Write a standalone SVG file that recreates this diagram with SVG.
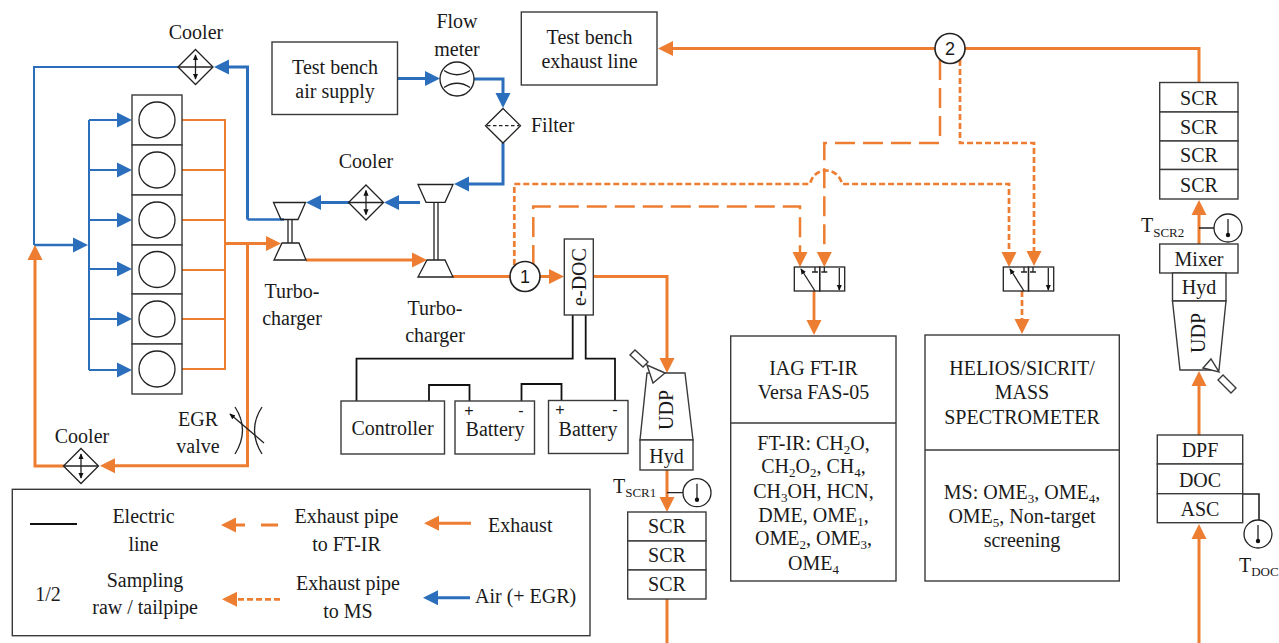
<svg xmlns="http://www.w3.org/2000/svg" width="1279" height="643" viewBox="0 0 1279 643">
<style>
text{font-family:"Liberation Serif","Times New Roman",serif;font-size:20px;fill:#1a1a1a;text-anchor:middle}
text.s{text-anchor:start}
text.n{font-family:"Liberation Sans",Arial,sans-serif;font-size:18px}
text.p{font-family:"Liberation Sans",Arial,sans-serif;font-size:16px}
tspan.b{font-size:13px}
.box{fill:#fff;stroke:#3a3a3a;stroke-width:1.4}
.sym{fill:none;stroke:#222;stroke-width:1.3}
.el{fill:none;stroke:#111;stroke-width:1.8}
.o{fill:none;stroke:#ED7D31;stroke-width:3}
.ot{fill:none;stroke:#ED7D31;stroke-width:2}
.bl{fill:none;stroke:#2B6FBC;stroke-width:3}
.bt{fill:none;stroke:#2B6FBC;stroke-width:2}
.ld{stroke-width:2.5;stroke-dasharray:20 8}
.sd{stroke-width:2.7;stroke-dasharray:6 3}
.oa{marker-end:url(#ao)}
.ba{marker-end:url(#ab)}
</style>
<defs>
<marker id="ao" markerUnits="userSpaceOnUse" markerWidth="16" markerHeight="16" viewBox="0 0 15 16" refX="11" refY="8" orient="auto"><path d="M0,0.5L15,8L0,15.5z" fill="#ED7D31"/></marker>
<marker id="ab" markerUnits="userSpaceOnUse" markerWidth="16" markerHeight="16" viewBox="0 0 15 16" refX="11" refY="8" orient="auto"><path d="M0,0.5L15,8L0,15.5z" fill="#2B6FBC"/></marker>
<marker id="as" markerUnits="userSpaceOnUse" markerWidth="6" markerHeight="6" viewBox="0 0 7 7" refX="6" refY="3.5" orient="auto-start-reverse"><path d="M0,0.5L7,3.5L0,6.5z" fill="#111"/></marker>
<g id="cooler"><path class="sym" style="fill:#fff" d="M0,-17.5L17.5,0L0,17.5L-17.5,0z"/><path class="sym" d="M-17,0H17"/><path class="sym" d="M0,-12V12" marker-start="url(#as)" marker-end="url(#as)"/></g>
<g id="thermo"><circle class="sym" style="fill:#fff" r="14"/><path class="sym" d="M0,-9V7"/><circle cy="7" r="2.2" fill="#111"/></g>
</defs>

<g id="connectors">
<path class="bt" d="M178,67H34V245"/>
<path class="bl ba" style="stroke-width:2.6" d="M34,245H84"/>
<path class="bt" d="M89,120V370"/>
<path class="bt ba" d="M89,120H128"/><path class="bt ba" d="M89,170H128"/><path class="bt ba" d="M89,220H128"/><path class="bt ba" d="M89,269H128"/><path class="bt ba" d="M89,319H128"/><path class="bt ba" d="M89,370H128"/>
<path class="ot" d="M182,120H225V369H182M182,170H225M182,220H225M182,270H225M182,319H225"/>
<path class="o oa" d="M225,243.5H277"/>
<path class="o oa" d="M247.5,243.5V465.7H104"/>
<path class="o oa" d="M64,466H35V249"/>
<path class="bl" style="stroke-width:2.4" d="M284,219.5H247.5"/>
<path class="bl ba" d="M247.5,219.5V67H218"/>
<path class="bl ba" d="M349,202.5H310"/>
<path class="bl ba" d="M420,202.5H388"/>
<path class="bl ba" d="M503,143V184H458"/>
<path class="bl ba" d="M398,78.5H436"/>
<path class="bl ba" d="M474,79H503V104"/>
<path class="o oa" d="M306,260H423"/>
<path class="o" d="M453,276.5H510"/>
<path class="o oa" d="M540,276.5H560"/>
<path class="o oa" d="M593,276.5H667V369"/>
<path class="o oa" d="M667,470V508"/>
<path class="o" d="M667,599V643"/>
<path class="o oa" d="M1199,643V528"/>
<path class="o oa" d="M1199,435V375"/>
<path class="o oa" d="M1199,244V204"/>
<path class="o" d="M1199,82V48.5H965"/>
<path class="o oa" d="M935,48.5H662"/>
<path class="o ld oa" d="M533.3,265V206.5H800V263"/>
<path class="o sd oa" d="M514.3,265V184H810C814,166 838,166 842,184H1009V263"/>
<path class="o ld oa" d="M940,60V143H824.3V263"/>
<path class="o sd oa" d="M960,60V143H1034V262"/>
<path class="o oa" style="stroke-width:2.8" d="M814,291V331"/>
<path class="o sd oa" d="M1022,291V330"/>
<path class="el" d="M572.7,315V358.7H356.5V401"/>
<path class="el" d="M585.7,315V358.7H615V400"/>
<path class="el" d="M429,401V385H469.5V401"/>
<path class="el" d="M521.5,401V384H561.5V400"/>
<path class="sym" d="M667,492.7H683M1199,228H1214"/>
<path class="sym" style="stroke-width:1.6" d="M1243,494H1259V520"/>
</g>

<g id="cooler-1"><use href="#cooler" x="195.5" y="67"/><text x="196" y="39">Cooler</text></g>
<g id="cooler-2"><use href="#cooler" x="366" y="202.5"/><text x="366" y="168">Cooler</text></g>
<g id="cooler-3"><use href="#cooler" x="81" y="466"/><text x="82" y="443">Cooler</text></g>

<g id="engine">
<rect class="box" x="132" y="95" width="50" height="50"/><rect class="box" x="132" y="145" width="50" height="50"/><rect class="box" x="132" y="195" width="50" height="50"/><rect class="box" x="132" y="245" width="50" height="49"/><rect class="box" x="132" y="294" width="50" height="50"/><rect class="box" x="132" y="344" width="50" height="50"/>
<circle class="sym" cx="157" cy="120" r="18"/><circle class="sym" cx="157" cy="170" r="18"/><circle class="sym" cx="157" cy="220" r="18"/><circle class="sym" cx="157" cy="269.5" r="18"/><circle class="sym" cx="157" cy="319" r="18"/><circle class="sym" cx="157" cy="369" r="18"/>
</g>

<g id="air-supply"><rect class="box" x="272" y="42" width="125.5" height="72.5"/><text x="335" y="74">Test bench</text><text x="335" y="98">air supply</text></g>
<g id="flow-meter"><circle class="sym" cx="457" cy="79" r="17"/><path class="sym" d="M444,70.5Q457,79 470,70.5M444,87.5Q457,79 470,87.5"/><text x="457" y="28">Flow</text><text x="457" y="56">meter</text></g>
<g id="filter"><path class="sym" style="fill:#fff" d="M503,108.5L520.5,125.7L503,143L485.5,125.7z"/><path class="sym" stroke-dasharray="3.5 2.5" d="M487,125.7H519"/><text class="s" x="531" y="132">Filter</text></g>
<g id="exhaust-line"><rect class="box" x="521.3" y="12" width="135.7" height="73"/><text x="589.5" y="44">Test bench</text><text x="589.5" y="68">exhaust line</text></g>

<g id="turbo-1"><path class="sym" d="M273.5,202.5H305.5L298,219.5H281zM282,243H299L306,260H274zM288,219.5V243M292,219.5V243"/><text x="292" y="298">Turbo-</text><text x="292" y="325">charger</text></g>
<g id="turbo-2"><path class="sym" d="M418,184.5H453L445,202.3H426zM427,260H445L453,277H418zM434,202.3V260M438,202.3V260"/><text x="435" y="315">Turbo-</text><text x="435" y="342">charger</text></g>

<g id="egr-valve"><path class="sym" d="M235,407Q250,430 235,454M262,407Q247,430 262,454"/><path class="sym" d="M264,443L230,414" marker-end="url(#as)"/><text x="198" y="426">EGR</text><text x="198" y="453">valve</text></g>

<g id="sample-1"><circle class="sym" style="fill:#fff;stroke-width:1.6" cx="525" cy="276.5" r="15"/><text class="n" x="525" y="283">1</text></g>
<g id="sample-2"><circle class="sym" style="fill:#fff;stroke-width:1.6" cx="950" cy="48.5" r="15"/><text class="n" x="950" y="55">2</text></g>

<g id="e-doc"><rect class="box" x="564.3" y="239" width="29" height="76"/><text transform="translate(586,277) rotate(-90)">e-DOC</text></g>
<g id="controller"><rect class="box" x="341" y="401" width="103.5" height="53"/><text x="392.5" y="435">Controller</text></g>
<g id="battery-1"><rect class="box" x="455" y="401" width="79.5" height="53"/><text x="495" y="436">Battery</text><text class="p" x="469" y="416">+</text><text class="p" x="521" y="416">-</text></g>
<g id="battery-2"><rect class="box" x="548.5" y="400.5" width="79.5" height="53"/><text x="588" y="436">Battery</text><text class="p" x="560" y="415">+</text><text class="p" x="615" y="415">-</text></g>

<g id="udp-1"><path class="box" d="M647,373H685L693,440H640z"/><text transform="translate(673,410) rotate(-90)">UDP</text>
<path class="box" d="M665,373L647,365L653,383zM630,355L635,350L648,362L643,367z"/></g>
<g id="hyd-1"><rect class="box" x="640" y="440" width="53" height="30"/><text x="666.5" y="463">Hyd</text></g>
<g id="t-scr1"><use href="#thermo" x="697" y="492.7"/><text class="s" x="613" y="492.7">T<tspan class="b" dy="4">SCR1</tspan></text></g>
<g id="scr-stack-1"><rect class="box" x="627.7" y="512" width="78.3" height="29"/><rect class="box" x="627.7" y="541" width="78.3" height="29"/><rect class="box" x="627.7" y="570" width="78.3" height="29"/><text x="667" y="533">SCR</text><text x="667" y="562">SCR</text><text x="667" y="591">SCR</text></g>

<g id="valve-1"><rect class="sym" x="794.3" y="267" width="25.4" height="24"/><rect class="sym" x="819.7" y="267" width="25" height="24"/><path class="sym" d="M815,291L801,269" marker-end="url(#as)"/><path class="sym" d="M815,267V272M812,272H818M824.3,267V272M821.3,272H827.3"/><path class="sym" d="M839.3,268V290" marker-end="url(#as)"/></g>
<g id="valve-2"><rect class="sym" x="1003.3" y="267" width="25.2" height="24"/><rect class="sym" x="1028.5" y="267" width="25.2" height="24"/><path class="sym" d="M1024,291L1010,269" marker-end="url(#as)"/><path class="sym" d="M1024,267V272M1021,272H1027M1033,267V272M1030,272H1036"/><path class="sym" d="M1048.3,268V290" marker-end="url(#as)"/></g>

<g id="ft-ir"><rect class="box" x="730.7" y="336" width="165.3" height="245"/><path class="box" d="M730.7,423H896"/>
<text x="813.5" y="375">IAG FT-IR</text><text x="813.5" y="399">Versa FAS-05</text>
<text x="813.5" y="450">FT-IR: CH<tspan class="b" dy="4">2</tspan><tspan dy="-4">O,</tspan></text>
<text x="813.5" y="473">CH<tspan class="b" dy="4">2</tspan><tspan dy="-4">O</tspan><tspan class="b" dy="4">2</tspan><tspan dy="-4">, CH</tspan><tspan class="b" dy="4">4</tspan><tspan dy="-4">,</tspan></text>
<text x="813.5" y="498">CH<tspan class="b" dy="4">3</tspan><tspan dy="-4">OH, HCN,</tspan></text>
<text x="813.5" y="522">DME, OME<tspan class="b" dy="4">1</tspan><tspan dy="-4">,</tspan></text>
<text x="813.5" y="545">OME<tspan class="b" dy="4">2</tspan><tspan dy="-4">, OME</tspan><tspan class="b" dy="4">3</tspan><tspan dy="-4">,</tspan></text>
<text x="813.5" y="570">OME<tspan class="b" dy="4">4</tspan></text></g>

<g id="mass-spec"><rect class="box" x="925" y="335" width="194.3" height="246"/><path class="box" d="M925,450H1119.3"/>
<text x="1022" y="375">HELIOS/SICRIT/</text><text x="1022" y="399">MASS</text><text x="1022" y="424">SPECTROMETER</text>
<text x="1022" y="499">MS: OME<tspan class="b" dy="4">3</tspan><tspan dy="-4">, OME</tspan><tspan class="b" dy="4">4</tspan><tspan dy="-4">,</tspan></text>
<text x="1022" y="523">OME<tspan class="b" dy="4">5</tspan><tspan dy="-4">, Non-target</tspan></text>
<text x="1022" y="547">screening</text></g>

<g id="scr-stack-2"><rect class="box" x="1159.7" y="82.5" width="78.3" height="29.5"/><rect class="box" x="1159.7" y="112" width="78.3" height="29"/><rect class="box" x="1159.7" y="141" width="78.3" height="28.5"/><rect class="box" x="1159.7" y="169.5" width="78.3" height="29.5"/><text x="1199" y="105">SCR</text><text x="1199" y="134">SCR</text><text x="1199" y="162">SCR</text><text x="1199" y="191.5">SCR</text></g>
<g id="t-scr2"><use href="#thermo" x="1228" y="228"/><text class="s" x="1141" y="232">T<tspan class="b" dy="5">SCR2</tspan></text></g>
<g id="mixer"><rect class="box" x="1159.7" y="244" width="78.3" height="29"/><text x="1199" y="266">Mixer</text></g>
<g id="hyd-2"><rect class="box" x="1172.5" y="273" width="53.5" height="28"/><text x="1199" y="294">Hyd</text></g>
<g id="udp-2"><path class="box" d="M1172.5,301H1226L1219,370H1180z"/><text transform="translate(1205,333) rotate(-90)">UDP</text>
<path class="box" d="M1203,368L1211,359L1219,372zM1218,380L1223,375L1236,388L1231,393z"/></g>
<g id="aftertreatment"><rect class="box" x="1157.3" y="435" width="85.4" height="29"/><rect class="box" x="1157.3" y="464" width="85.4" height="29.7"/><rect class="box" x="1157.3" y="493.7" width="85.4" height="29"/><text x="1200" y="457">DPF</text><text x="1200" y="487">DOC</text><text x="1200" y="516">ASC</text></g>
<g id="t-doc"><use href="#thermo" x="1258" y="534"/><text class="s" x="1239" y="571.5">T<tspan class="b" dy="4">DOC</tspan></text></g>

<g id="legend"><rect class="box" style="fill:none" x="12.3" y="489.3" width="577.7" height="146.4"/>
<path class="el" d="M30,524H77"/>
<text x="143.5" y="523">Electric</text><text x="143.5" y="551">line</text>
<path class="o oa" d="M245,525H225"/><path class="o" d="M261,525H278"/>
<text x="346.5" y="523">Exhaust pipe</text><text x="346.5" y="551">to FT-IR</text>
<path class="o oa" d="M471,523.3H428"/><text class="s" x="488" y="531.5">Exhaust</text>
<text x="48" y="600.5">1/2</text>
<text x="145" y="586.5">Sampling</text><text x="145" y="614">raw / tailpipe</text>
<path class="o sd oa" d="M280,599.3H226"/>
<text x="348" y="590">Exhaust pipe</text><text x="348" y="617.5">to MS</text>
<path class="bl ba" d="M470,597.7H427"/><text class="s" x="475" y="603">Air (+ EGR)</text></g>
</svg>
